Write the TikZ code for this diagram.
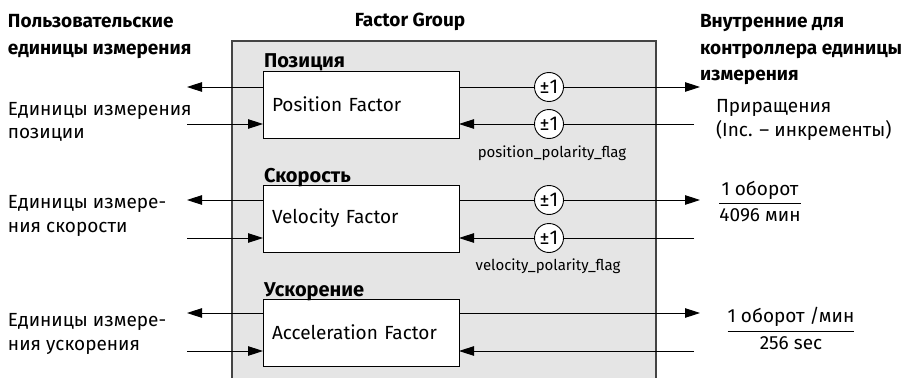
\documentclass[tikz,border=0pt]{standalone}
\usepackage{fontspec}
\setmainfont{Fira Sans}
\usetikzlibrary{arrows.meta}
\definecolor{panelfill}{HTML}{E5E5E5}
\definecolor{paneledge}{HTML}{444444}
\begin{document}
\begin{tikzpicture}[x=1pt,y=-1pt,
  every node/.style={inner sep=0pt, outer sep=0pt},
  wire/.style={line width=0.9pt},
  flow/.style={wire, -{Triangle[length=15pt,width=9.5pt]}},
  factor/.style={draw, fill=white, line width=0.9pt, anchor=north west,
    minimum width=196pt, minimum height=67pt, inner xsep=9pt,
    text width=178pt, align=left, font=\fontsize{19}{22}\selectfont},
  section/.style={anchor=base west, font=\fontsize{20}{22}\selectfont\bfseries},
  sign/.style={draw, circle, fill=white, line width=0.9pt, minimum size=29pt,
    font=\fontsize{20}{22}\selectfont},
  flag/.style={anchor=base, font=\fontsize{15}{18}\selectfont},
  head/.style={anchor=base west, align=left, font=\fontsize{19}{27}\selectfont\bfseries},
  unit/.style={anchor=base west, align=left, font=\fontsize{19}{24}\selectfont},
  frac/.style={anchor=base, font=\fontsize{19}{22}\selectfont},
]
\useasboundingbox (0,0) rectangle (917,377);

% grey factor-group panel, open at the bottom
\fill[panelfill] (232,378) -- (232,41) -- (656,41) -- (656,378) -- cycle;
\draw[paneledge, line width=1.1pt] (232,378) -- (232,41) -- (656,41) -- (656,378);

% column headings (anchored on the baseline of their last line)
\node[head] (userHead) at (8,55) {Пользовательские\\единицы измерения};
\node[anchor=base, font=\fontsize{19}{22}\selectfont\bfseries] (groupHead) at (410,27) {Factor Group};
\node[head, font=\fontsize{19}{26.5}\selectfont\bfseries] (ctrlHead) at (700,81) {Внутренние для\\контроллера единицы\\измерения};

% factor blocks
\node[factor] (pos) at (263,71) {Position Factor};
\node[factor] (vel) at (263,185) {Velocity Factor};
\node[factor] (acc) at (263,299) {Acceleration Factor};
\node[section] (posTitle) at (264,68) {Позиция};
\node[section] (velTitle) at (264,182) {Скорость};
\node[section] (accTitle) at (264,296) {Ускорение};

% user-side unit labels
\node[unit] (posUser) at (8,139) {Единицы измерения\\позиции};
\node[unit] (velUser) at (8,232) {Единицы измере-\\ния скорости};
\node[unit] (accUser) at (8,350) {Единицы измере-\\ния ускорения};

% controller-side unit labels
\node[unit] (posCtrl) at (716,136) {Приращения\\(Inc. – инкременты)};
\node[frac] (velNum) at (760,195) {1 оборот};
\node[frac] (velDen) at (760,221) {4096 мин};
\coordinate (velBar) at (0,203);
\draw[wire] (velDen.west |- velBar) -- (velDen.east |- velBar);
\node[frac] (accNum) at (791,322) {1 оборот /мин};
\node[frac] (accDen) at (791,349) {256 sec};
\coordinate (accBar) at (0,331);
\draw[wire] (accNum.west |- accBar) -- (accNum.east |- accBar);

% free ends of the signal lines
\coordinate (posLout) at (187,87);
\coordinate (posLin)  at (187,124);
\coordinate (posRout) at (700,87);
\coordinate (posRin)  at (694,124);
\coordinate (velLout) at (187,200);
\coordinate (velLin)  at (187,238);
\coordinate (velRout) at (700,200);
\coordinate (velRin)  at (694,238);
\coordinate (accLout) at (187,313);
\coordinate (accLin)  at (187,351);
\coordinate (accRout) at (700,313);
\coordinate (accRin)  at (694,351);

% polarity multipliers
\node[sign] (posS1) at (549,87) {±1};
\node[sign] (posS2) at (549,124) {±1};
\node[flag] (posFlag) at (552,157) {position\_polarity\_flag};
\node[sign] (velS1) at (549,200) {±1};
\node[sign] (velS2) at (549,238) {±1};
\node[flag] (velFlag) at (548,270) {velocity\_polarity\_flag};

% position signals
\draw[flow] (pos.west |- posLout) -- (posLout);
\draw[flow] (posLin) -- (pos.west |- posLin);
\draw[wire] (pos.east |- posS1) -- (posS1);
\draw[flow] (posS1) -- (posRout);
\draw[wire] (posRin) -- (posS2);
\draw[flow] (posS2) -- (pos.east |- posS2);

% velocity signals
\draw[flow] (vel.west |- velLout) -- (velLout);
\draw[flow] (velLin) -- (vel.west |- velLin);
\draw[wire] (vel.east |- velS1) -- (velS1);
\draw[flow] (velS1) -- (velRout);
\draw[wire] (velRin) -- (velS2);
\draw[flow] (velS2) -- (vel.east |- velS2);

% acceleration signals
\draw[flow] (acc.west |- accLout) -- (accLout);
\draw[flow] (accLin) -- (acc.west |- accLin);
\draw[flow] (acc.east |- accRout) -- (accRout);
\draw[flow] (accRin) -- (acc.east |- accRin);
\end{tikzpicture}
\end{document}
